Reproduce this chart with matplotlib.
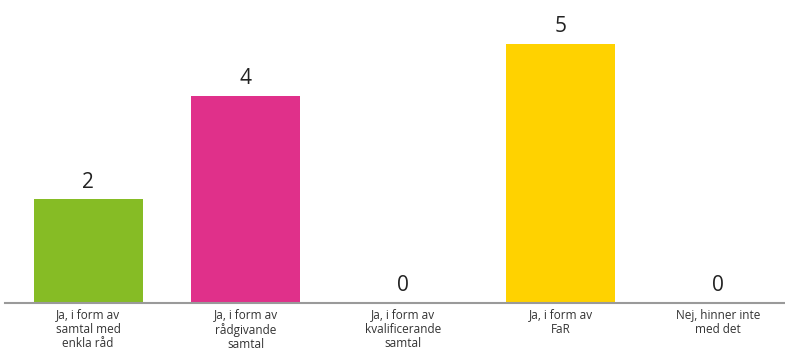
import matplotlib.pyplot as plt

categories = ['Ja, i form av\nsamtal med\nenkla råd',
              'Ja, i form av\nrådgivande\nsamtal',
              'Ja, i form av\nkvalificerande\nsamtal',
              'Ja, i form av\nFaR',
              'Nej, hinner inte\nmed det']
values = [2, 4, 0, 5, 0]
colors = ['#86BC25', '#E0308A', '#9E9E9E', '#FFD200', '#9E9E9E']

plt.rcParams['font.family'] = ['Open Sans', 'DejaVu Sans']

fig = plt.figure(figsize=(7.85, 3.51), dpi=100)
ax = fig.add_axes([0, 48 / 351, 1, 303 / 351])

x = range(len(categories))
bars = ax.bar(x, values, width=0.692, color=colors)

for xi, v in zip(x, values):
    ax.text(xi, v + 0.13, str(v), ha='center', va='bottom', fontsize=15, color='#222222')

ax.set_xlim(-0.559, 4.425)
ax.set_ylim(0, 5.85)

ax.set_xticks(list(x))
ax.set_xticklabels(categories, fontsize=8.5, color='#333333', linespacing=1.1)
ax.tick_params(axis='x', length=0, pad=4)
ax.set_yticks([])

for s in ax.spines.values():
    s.set_visible(False)
ax.axhline(0, xmin=5 / 785, color='#9a9a9a', linewidth=1.5, clip_on=False)

plt.savefig('out.png', dpi=100)
